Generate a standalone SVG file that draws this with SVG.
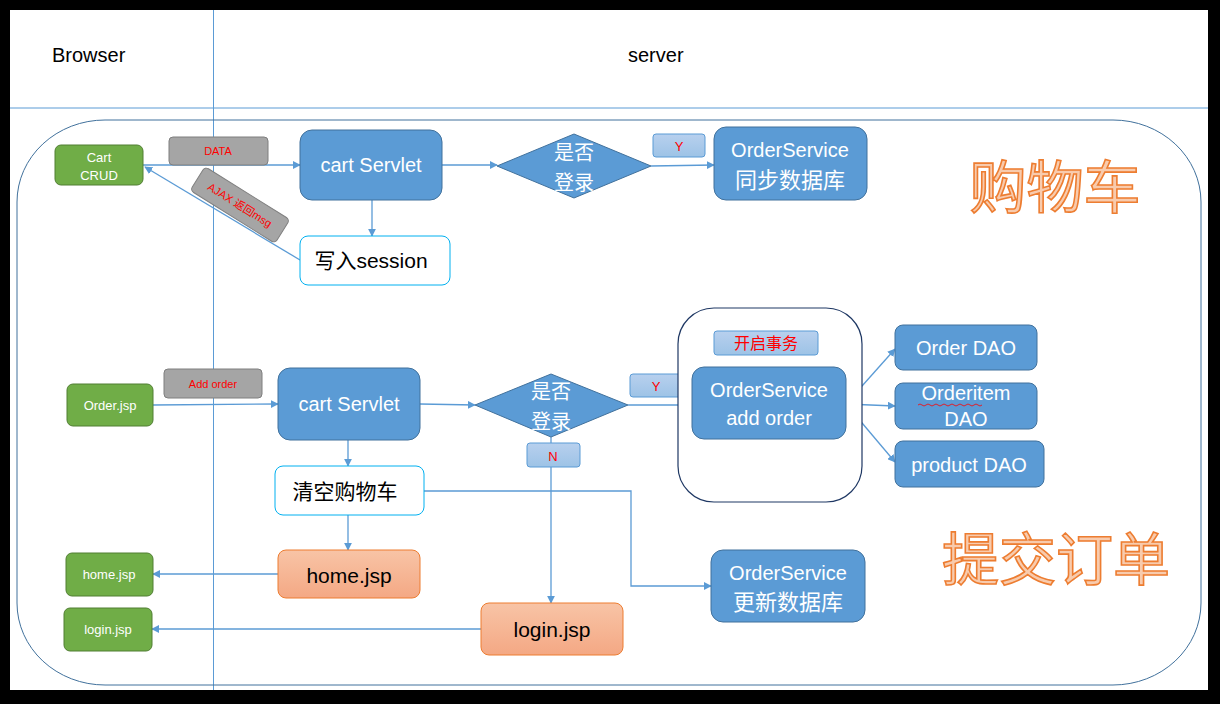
<svg xmlns="http://www.w3.org/2000/svg" width="1220" height="704" viewBox="0 0 1220 704">
<style>
.lane{stroke:#5b9bd5;stroke-width:1;fill:none}
.con{stroke:#5b9bd5;stroke-width:1.3;fill:none}
.green{fill:#70ad47;stroke:#507e32;stroke-width:1}
.gt{fill:#fff;font-family:"Liberation Sans","Noto Sans CJK SC",sans-serif;font-size:13px;text-anchor:middle}
.gray{fill:#a5a5a5;stroke:#7f7f7f;stroke-width:1}
.rt{fill:#ff0000;font-family:"Liberation Sans","Noto Sans CJK SC",sans-serif;font-size:11px;text-anchor:middle}
.blue{fill:#5b9bd5;stroke:#41719c;stroke-width:1}
.bt{fill:#fff;font-family:"Liberation Sans","Noto Sans CJK SC",sans-serif;font-size:20px;text-anchor:middle}
.bc{fill:#fff;font-family:"Noto Sans CJK SC",sans-serif;font-size:22px;text-anchor:middle}
.dc{fill:#fff;font-family:"Noto Sans CJK SC",sans-serif;font-size:20px;text-anchor:middle}
.white{fill:#fff;stroke:#00b0f0;stroke-width:1}
.kt{fill:#000;font-family:"Liberation Sans","Noto Sans CJK SC",sans-serif;font-size:21px;text-anchor:middle}
.orange{fill:url(#og);stroke:#ed7d31;stroke-width:1}
.lbl{fill:url(#lg);stroke:#5b9bd5;stroke-width:1}
.big{fill:#f8cbad;stroke:#ed7d31;stroke-width:1.6;font-family:"Noto Sans CJK SC",sans-serif;font-size:57px;text-anchor:middle}
.hd{fill:#000;font-family:"Liberation Sans",sans-serif;font-size:20px}
</style>
<defs>
<marker id="ah" viewBox="0 0 10 10" refX="9" refY="5" markerWidth="8" markerHeight="8" orient="auto-start-reverse" markerUnits="userSpaceOnUse">
<path d="M0,0 L10,5 L0,10 z" fill="#5b9bd5"/>
</marker>
<linearGradient id="og" x1="0" y1="0" x2="0" y2="1"><stop offset="0" stop-color="#f8c4a6"/><stop offset="1" stop-color="#f4a884"/></linearGradient>
<linearGradient id="lg" x1="0" y1="0" x2="0" y2="1"><stop offset="0" stop-color="#b8d0ee"/><stop offset="1" stop-color="#9dc3e6"/></linearGradient>
</defs>
<rect x="0" y="0" width="1220" height="704" fill="#000"/>
<rect x="10" y="10" width="1198" height="680" fill="#fff"/>
<g id="lanes">
<line class="lane" x1="10" y1="108" x2="1208" y2="108"/>
<line class="lane" x1="213.5" y1="10" x2="213.5" y2="690"/>
<text class="hd" x="52" y="62">Browser</text>
<text class="hd" x="628" y="62">server</text>
</g>
<rect id="frame" x="17" y="120" width="1184" height="565" rx="88" ry="82" fill="none" stroke="#41719c" stroke-width="1"/>

<g id="connectors">
<line class="con" x1="143" y1="165" x2="300" y2="165" marker-end="url(#ah)"/>
<line class="con" x1="300" y1="260" x2="145" y2="167" marker-end="url(#ah)"/>
<line class="con" x1="442" y1="165" x2="497" y2="165" marker-end="url(#ah)"/>
<line class="con" x1="651" y1="166" x2="714" y2="165" marker-end="url(#ah)"/>
<line class="con" x1="372" y1="200" x2="372" y2="236" marker-end="url(#ah)"/>
<line class="con" x1="153" y1="405" x2="278" y2="404" marker-end="url(#ah)"/>
<line class="con" x1="420" y1="404" x2="475" y2="405" marker-end="url(#ah)"/>
<line class="con" x1="628" y1="405" x2="692" y2="405" marker-end="url(#ah)"/>
<line class="con" x1="846" y1="404" x2="895" y2="349" marker-end="url(#ah)"/>
<line class="con" x1="846" y1="404" x2="895" y2="406" marker-end="url(#ah)"/>
<line class="con" x1="846" y1="404" x2="895" y2="462" marker-end="url(#ah)"/>
<line class="con" x1="551" y1="437" x2="551" y2="603" marker-end="url(#ah)"/>
<line class="con" x1="348" y1="440" x2="348" y2="466" marker-end="url(#ah)"/>
<polyline class="con" points="424,491 631,491 631,586 711,586" marker-end="url(#ah)"/>
<line class="con" x1="348" y1="515" x2="348" y2="550" marker-end="url(#ah)"/>
<line class="con" x1="278" y1="574" x2="153" y2="574" marker-end="url(#ah)"/>
<line class="con" x1="481" y1="629" x2="152" y2="629" marker-end="url(#ah)"/>
</g>

<g id="cart-crud"><rect class="green" x="55" y="145" width="88" height="40" rx="6"/><text class="gt" x="99" y="162">Cart</text><text class="gt" x="99" y="180">CRUD</text></g>
<g id="lbl-data"><rect class="gray" x="169" y="137" width="99" height="28" rx="4"/><text class="rt" x="218" y="155">DATA</text></g>
<g id="lbl-ajax" transform="rotate(32 240 205)"><rect class="gray" x="190" y="191" width="100" height="28" rx="4"/><text class="rt" x="240" y="209">AJAX 返回msg</text></g>
<g id="servlet1"><rect class="blue" x="300" y="130" width="142" height="70" rx="12"/><text class="bt" x="371" y="172">cart Servlet</text></g>
<g id="login1"><polygon class="blue" points="497,166 574,134 651,166 574,198"/><text class="dc" x="574" y="160">是否</text><text class="dc" x="574" y="190">登录</text></g>
<g id="lbl-y1"><rect class="lbl" x="653" y="134" width="52" height="23" rx="3"/><text class="rt" x="679" y="151" style="font-size:13px">Y</text></g>
<g id="os-sync"><rect class="blue" x="714" y="127" width="153" height="73" rx="12"/><text class="bt" x="790" y="157">OrderService</text><text class="bc" x="790" y="188">同步数据库</text></g>
<g id="session"><rect class="white" x="300" y="236" width="150" height="49" rx="8"/><text class="kt" x="371" y="268">写入session</text></g>
<g id="title-cart"><text class="big" x="1055" y="208">购物车</text></g>

<g id="order-jsp"><rect class="green" x="67" y="384" width="86" height="42" rx="6"/><text class="gt" x="110" y="410">Order.jsp</text></g>
<g id="lbl-add"><rect class="gray" x="164" y="369" width="98" height="29" rx="4"/><text class="rt" x="213" y="388">Add order</text></g>
<g id="servlet2"><rect class="blue" x="278" y="368" width="142" height="72" rx="12"/><text class="bt" x="349" y="411">cart Servlet</text></g>
<g id="login2"><polygon class="blue" points="475,405 551,374 628,405 551,437"/><text class="dc" x="551" y="399">是否</text><text class="dc" x="551" y="429">登录</text></g>
<g id="lbl-y2"><rect class="lbl" x="630" y="374" width="52" height="23" rx="3"/><text class="rt" x="656" y="391" style="font-size:13px">Y</text></g>
<g id="tx"><rect x="678" y="308" width="184" height="194" rx="36" fill="#fff" stroke="#1f3864" stroke-width="1.2"/></g>
<g id="lbl-tx"><rect class="lbl" x="714" y="331" width="104" height="24" rx="3"/><text class="rt" x="766" y="349" style="font-size:16px;font-family:'Noto Sans CJK SC',sans-serif">开启事务</text></g>
<g id="os-add"><rect class="blue" x="692" y="367" width="154" height="72" rx="12"/><text class="bt" x="769" y="397">OrderService</text><text class="bt" x="769" y="425">add order</text></g>
<g id="order-dao"><rect class="blue" x="895" y="325" width="142" height="45" rx="8"/><text class="bt" x="966" y="355">Order DAO</text></g>
<g id="item-dao"><rect class="blue" x="895" y="383" width="142" height="46" rx="8"/><text class="bt" x="966" y="400">Orderitem</text><path d="M918,405 q2,-2 4,0 t4,0 t4,0 t4,0 t4,0 t4,0 t4,0 t4,0 t4,0 t4,0 t4,0 t4,0 t4,0 t4,0 t4,0 t4,0" fill="none" stroke="#ff0000" stroke-width="0.8"/><text class="bt" x="966" y="426">DAO</text></g>
<g id="product-dao"><rect class="blue" x="895" y="441" width="149" height="46" rx="8"/><text class="bt" x="969" y="472">product DAO</text></g>
<g id="lbl-n"><rect class="lbl" x="527" y="443" width="53" height="24" rx="3"/><text class="rt" x="553" y="461" style="font-size:13px">N</text></g>
<g id="clear"><rect class="white" x="275" y="466" width="149" height="49" rx="8"/><text class="kt" x="345" y="499">清空购物车</text></g>
<g id="home-o"><rect class="orange" x="278" y="550" width="142" height="48" rx="8"/><text class="kt" x="349" y="583">home.jsp</text></g>
<g id="login-o"><rect class="orange" x="481" y="603" width="142" height="52" rx="8"/><text class="kt" x="552" y="637">login.jsp</text></g>
<g id="os-update"><rect class="blue" x="711" y="550" width="154" height="72" rx="12"/><text class="bt" x="788" y="580">OrderService</text><text class="bc" x="788" y="610">更新数据库</text></g>
<g id="home-g"><rect class="green" x="66" y="553" width="87" height="43" rx="6"/><text class="gt" x="109" y="579">home.jsp</text></g>
<g id="login-g"><rect class="green" x="64" y="608" width="88" height="43" rx="6"/><text class="gt" x="108" y="634">login.jsp</text></g>
<g id="title-order"><text class="big" x="1056" y="580">提交订单</text></g>
</svg>
